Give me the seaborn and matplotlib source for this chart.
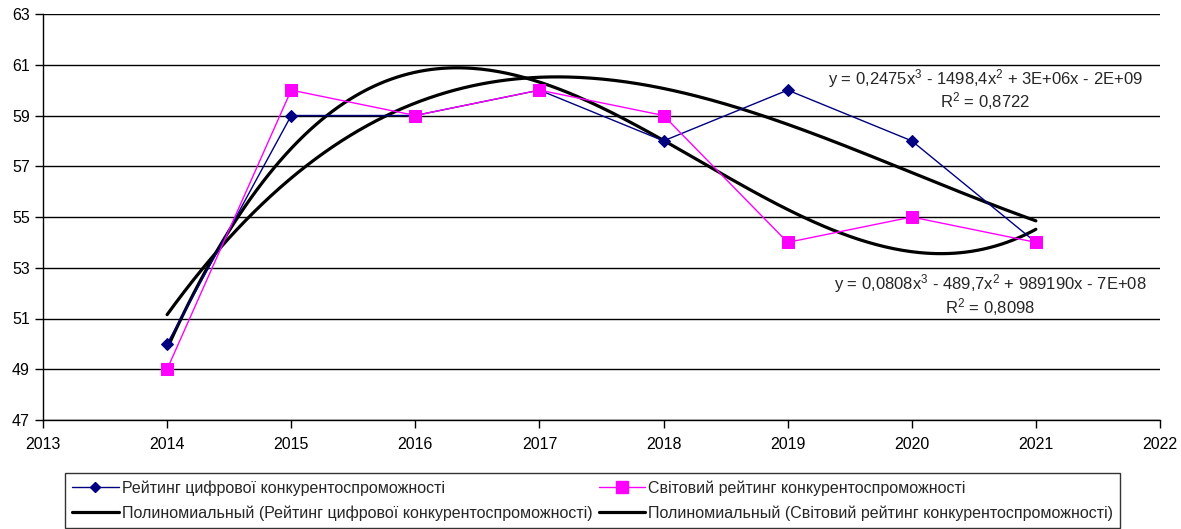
import numpy as np
import pandas as pd
import matplotlib
matplotlib.use("Agg")
import matplotlib.pyplot as plt
import seaborn as sns
from matplotlib.lines import Line2D

years = [2014, 2015, 2016, 2017, 2018, 2019, 2020, 2021]
digital = [50, 59, 59, 60, 58, 60, 58, 54]
world = [49, 60, 59, 60, 59, 54, 55, 54]
name_digital = "Рейтинг цифрової конкурентоспроможності"
name_world = "Світовий рейтинг конкурентоспроможності"
trend_digital = "Полиномиальный (Рейтинг цифрової конкурентоспроможності)"
trend_world = "Полиномиальный (Світовий рейтинг конкурентоспроможності)"
eq1 = r"y = 0,2475x$^3$ - 1498,4x$^2$ + 3E+06x - 2E+09"
r1 = r"R$^2$ = 0,8722"
eq2 = r"y = 0,0808x$^3$ - 489,7x$^2$ + 989190x - 7E+08"
r2 = r"R$^2$ = 0,8098"

sns.set_style("white")
plt.rcParams['font.family'] = ['Liberation Sans', 'DejaVu Sans']
plt.rcParams['mathtext.default'] = 'regular'

fig = plt.figure(figsize=(11.81, 5.29), dpi=100)
ax = fig.add_axes([43/1181, 1-420/529, (1160-43)/1181, (420-14)/529])

df = pd.DataFrame({"year": years, "digital": digital, "world": world})

# polynomial trend lines (cubic fit of data)
xs = np.linspace(2014, 2021, 300)
for col in ["digital", "world"]:
    x0 = np.array(years, dtype=float) - 2017.5
    c = np.polyfit(x0, df[col].values, 3)
    ys = np.polyval(c, xs - 2017.5)
    ax.plot(xs, ys, color="black", lw=2.3, zorder=3)

sns.lineplot(data=df, x="year", y="digital", ax=ax, color="#000080", lw=1,
             marker="D", markersize=6, markeredgecolor="#000080", zorder=4)
sns.lineplot(data=df, x="year", y="world", ax=ax, color="#FF00FF", lw=1,
             marker="s", markersize=9, markeredgecolor="#FF00FF", zorder=4)

ax.set_xlim(2013, 2022)
ax.set_ylim(47, 63)
ax.set_xticks(range(2013, 2023))
ax.set_yticks(range(47, 64, 2))
ax.set_xlabel("")
ax.set_ylabel("")
ax.grid(axis="y", color="black", lw=1)
ax.grid(axis="x", visible=False)
for s in ["top", "right"]:
    ax.spines[s].set_visible(False)
for s in ["left", "bottom"]:
    ax.spines[s].set_color("black")
    ax.spines[s].set_linewidth(1)
ax.tick_params(axis="both", direction="out", length=6, width=1, color="black",
               labelsize=11.5, labelcolor="black", left=True, bottom=True)
ax.tick_params(axis="x", pad=6)

ax.text(2020.59, 60.47, eq1, ha="center", va="center", fontsize=12)
ax.text(2020.59, 59.58, r1, ha="center", va="center", fontsize=12)
ax.text(2020.63, 52.36, eq2, ha="center", va="center", fontsize=12)
ax.text(2020.63, 51.45, r2, ha="center", va="center", fontsize=12)

h_d = Line2D([], [], color="#000080", lw=1, marker="D", markersize=5)
h_w = Line2D([], [], color="#FF00FF", lw=1, marker="s", markersize=9)
h_td = Line2D([], [], color="black", lw=2.3)
h_tw = Line2D([], [], color="black", lw=2.3)
handles = [h_d, h_td, h_w, h_tw]
labels = [name_digital, trend_digital, name_world, trend_world]
leg = fig.legend(handles, labels, ncol=2, loc="upper left",
                 bbox_to_anchor=(65/1181, 1-473/529), fontsize=11.5,
                 frameon=True, fancybox=False, edgecolor="black",
                 handlelength=2.9, handletextpad=0.2, columnspacing=0.4,
                 labelspacing=0.6, borderpad=0.45, borderaxespad=0)
leg.get_frame().set_linewidth(1)

fig.savefig("out.png", dpi=100)
